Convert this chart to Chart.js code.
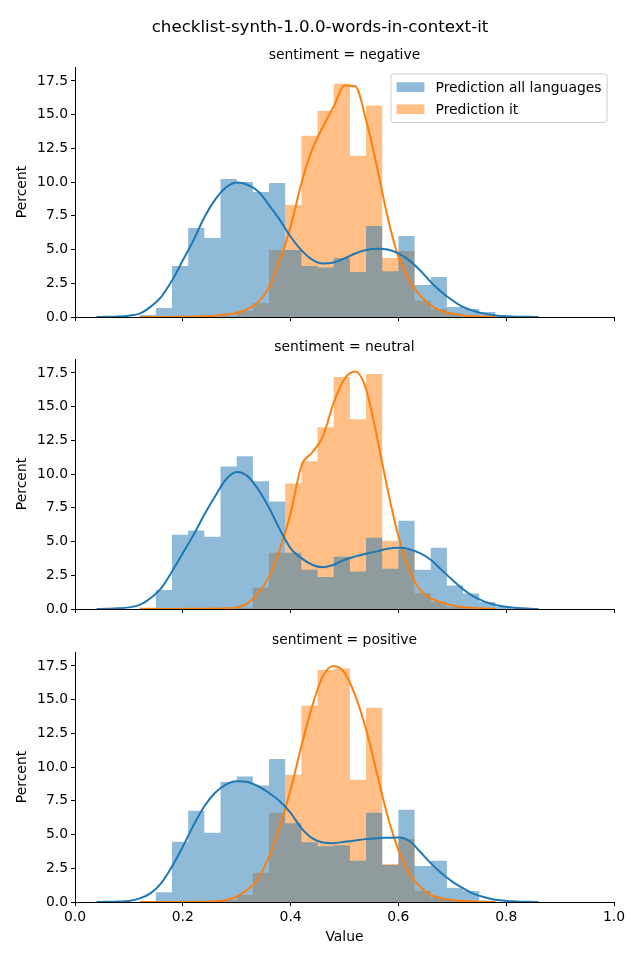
<!DOCTYPE html>
<html>
<head>
<meta charset="utf-8">
<script src="https://cdn.jsdelivr.net/npm/chart.js@4.4.1/dist/chart.umd.min.js"></script>
<style>
    html, body { margin: 0; padding: 0; background: #fff; }
    #page { position: relative; width: 640px; height: 960px; }
    canvas { position: absolute; left: 0; }
</style>
</head>
<body>
<div id="page">
    <canvas id="negative" width="640" height="330" style="top:0"></canvas>
    <canvas id="neutral" width="640" height="292" style="top:330px"></canvas>
    <canvas id="positive" width="640" height="338" style="top:622px"></canvas>
</div>
<script>
// histogram bin edges (width 0.03) and percent per bin
const binEdges = [0.12, 0.15, 0.18, 0.21, 0.24, 0.27, 0.30, 0.33, 0.36, 0.39, 0.42, 0.45,
    0.48, 0.51, 0.54, 0.57, 0.60, 0.63, 0.66, 0.69, 0.72, 0.75, 0.78, 0.81]

const negativeAll = [0.15, 0.66, 3.78, 6.6, 5.86, 10.23, 10.0, 9.27, 9.93, 4.97, 3.78, 3.66,
    4.37, 3.34, 6.75, 3.40, 6.0, 2.37, 2.97, 0.74, 0.59, 0.37, 0.1]
const negativeIt = [0, 0, 0, 0, 0.05, 0.1, 0.47, 1.01, 4.97, 8.3, 13.44, 15.29,
    17.28, 11.95, 15.67, 4.37, 4.9, 1.2, 0.6, 0.27, 0.1, 0, 0]

const neutralAll = [0, 1.41, 5.51, 5.81, 5.36, 10.57, 11.32, 9.46, 7.97, 4.17, 2.90, 2.38,
    3.87, 2.78, 5.29, 2.98, 6.55, 2.90, 4.54, 1.75, 1.14, 0.52, 0.15]
const neutralIt = [0.12, 0, 0, 0, 0, 0.05, 0.1, 1.6, 4.17, 9.31, 10.95, 13.48,
    17.2, 14.07, 17.42, 5.06, 4.39, 1.16, 0.54, 0.17, 0.07, 0, 0]

const positiveAll = [0, 0.72, 4.46, 6.77, 5.13, 8.90, 9.30, 8.63, 10.6, 5.83, 4.42, 4.13,
    4.2, 3.06, 6.62, 2.74, 6.84, 2.67, 3.06, 1.04, 0.82, 0.1, 0]
const positiveIt = [0, 0, 0, 0, 0, 0.15, 0.52, 2.17, 6.62, 9.44, 14.55, 17.2,
    17.3, 9.07, 14.4, 2.82, 4.69, 0.84, 0.34, 0.15, 0.05, 0, 0]

// kde curves, read at these x values
const kdeX = [0.04, 0.06, 0.08, 0.10, 0.12, 0.14, 0.16, 0.18, 0.20, 0.22, 0.24, 0.26, 0.28, 0.30,
    0.32, 0.34, 0.36, 0.38, 0.40, 0.42, 0.44, 0.46, 0.48, 0.50, 0.52, 0.54, 0.56, 0.58,
    0.60, 0.62, 0.64, 0.66, 0.68, 0.70, 0.72, 0.74, 0.76, 0.78, 0.80, 0.82, 0.84, 0.86]

const negativeAllKde = [0, 0.01, 0.03, 0.1, 0.25, 0.75, 1.5, 2.7, 4.2, 5.7, 7.4, 8.7, 9.6, 9.97,
    9.8, 9.3, 8.3, 7.2, 5.95, 4.96, 4.26, 3.97, 4.04, 4.34, 4.71, 4.96, 5.06, 5.0,
    4.71, 4.2, 3.47, 2.6, 1.86, 1.24, 0.74, 0.45, 0.25, 0.12, 0.05, 0.02, 0.01, 0]
const negativeItKde = [null, null, null, null, 0, 0, 0, 0.01, 0.02, 0.03, 0.05, 0.1, 0.18, 0.3,
    0.6, 1.1, 2.2, 4.2, 6.7, 9.9, 12.4, 14.1, 15.6, 17.15, 17.1, 14.6, 11.2, 7.4,
    4.46, 2.7, 1.6, 0.87, 0.45, 0.25, 0.12, 0.06, 0.03, 0, null, null, null, null]

const neutralAllKde = [0, 0.02, 0.05, 0.12, 0.3, 0.8, 1.55, 2.78, 4.14, 5.5, 7.0, 8.36, 9.6, 10.15,
    9.85, 8.86, 7.5, 5.9, 4.5, 3.77, 3.28, 3.1, 3.28, 3.65, 3.9, 4.1, 4.27, 4.47,
    4.54, 4.44, 4.14, 3.65, 2.9, 2.16, 1.46, 0.92, 0.55, 0.3, 0.17, 0.08, 0.03, 0]
const neutralItKde = [null, null, null, null, 0, 0, 0, 0, 0.01, 0.01, 0.02, 0.03, 0.05, 0.12,
    0.42, 1.17, 2.4, 4.4, 7.1, 10.6, 11.6, 12.8, 15.3, 17.05, 17.6, 16.3, 12.8, 8.86,
    5.4, 2.9, 1.41, 0.8, 0.47, 0.27, 0.15, 0.07, 0.03, 0.01, null, null, null, null]

const positiveAllKde = [0, 0.01, 0.03, 0.08, 0.27, 0.64, 1.4, 2.63, 4.1, 5.7, 7.1, 8.1, 8.7, 8.95,
    8.9, 8.58, 8.08, 7.46, 6.6, 5.48, 4.73, 4.41, 4.36, 4.46, 4.56, 4.66, 4.73, 4.76,
    4.78, 4.54, 3.74, 2.88, 2.13, 1.51, 1.02, 0.6, 0.35, 0.17, 0.08, 0.03, 0.01, 0]
const positiveItKde = [null, null, null, null, 0, 0, 0, 0, 0.01, 0.01, 0.02, 0.05, 0.15, 0.4,
    0.9, 1.76, 3.37, 5.6, 8.33, 11.55, 14.5, 16.76, 17.5, 17.0, 15.3, 12.8, 9.57, 6.35,
    3.87, 2.13, 1.14, 0.52, 0.27, 0.15, 0.08, 0.04, 0.02, 0, null, null, null, null]

const seriesLabels = ['Prediction all languages', 'Prediction it']
const figureTitle = 'checklist-synth-1.0.0-words-in-context-it'

const BLUE = '#1f77b4'
const ORANGE = '#ff7f0e'
const BLUE_FILL = 'rgba(31,119,180,0.5)'
const ORANGE_FILL = 'rgba(255,127,14,0.5)'
const FS = 13.9
const FONT = '"DejaVu Sans", sans-serif'

Chart.defaults.font.family = FONT
Chart.defaults.font.size = FS
Chart.defaults.color = '#000'

const points = (xs, ys) => xs.map((x, i) => ({x, y: ys[i]}))
// each bin value holds from its left edge to the next edge
const histPoints = (vals) => binEdges.map((x, i) => ({x, y: i < vals.length ? vals[i] : 0}))

function drawLegend(chart) {
    const {ctx, chartArea} = chart
    const pad = 0.4 * FS, handleLen = 2 * FS, handlePad = 0.8 * FS
    const rowH = 15.2, spacing = 0.5 * FS, axPad = 0.5 * FS
    ctx.font = FS + 'px ' + FONT
    const textW = Math.max(...seriesLabels.map((t) => ctx.measureText(t).width))
    const w = pad * 2 + handleLen + handlePad + textW
    const h = pad * 2 + rowH * 2 + spacing
    const left = chartArea.right - axPad - w
    const top = chartArea.top + axPad

    ctx.beginPath()
    ctx.roundRect(left, top, w, h, 2.8)
    ctx.fillStyle = 'rgba(255,255,255,0.8)'
    ctx.fill()
    ctx.strokeStyle = 'rgb(204,204,204)'
    ctx.lineWidth = 1
    ctx.stroke()

    const colors = [BLUE_FILL, ORANGE_FILL]
    seriesLabels.forEach((label, i) => {
        const cy = top + pad + rowH / 2 + i * (rowH + spacing)
        ctx.fillStyle = colors[i]
        ctx.fillRect(left + pad, cy - 0.35 * FS, handleLen, 0.7 * FS)
        ctx.fillStyle = '#000'
        ctx.textAlign = 'left'
        ctx.textBaseline = 'middle'
        ctx.fillText(label, left + pad + handleLen + handlePad, cy + 1)
    })
}

const panelText = {
    id: 'panelText',
    afterDraw(chart, args, opts) {
        const {ctx, chartArea} = chart
        ctx.save()
        ctx.fillStyle = '#000'
        ctx.textAlign = 'center'
        ctx.textBaseline = 'alphabetic'
        if (opts.suptitle) {
            ctx.font = '16.67px ' + FONT
            ctx.fillText(opts.suptitle, 320, 32)
        }
        ctx.font = FS + 'px ' + FONT
        ctx.fillText(opts.title, (chartArea.left + chartArea.right) / 2, chartArea.top - 8.3)
        if (opts.legend) drawLegend(chart)
        ctx.restore()
    }
}

function makePanel({id, title, all, it, allKde, itKde, padTop, xHeight, bottom, first}) {
    const axisGrid = {
        display: true,
        drawOnChartArea: false,
        drawTicks: true,
        tickLength: 4,
        color: '#000',
        lineWidth: 1
    }
    const kdeLine = {
        type: 'line', borderWidth: 2, pointRadius: 0, fill: false,
        cubicInterpolationMode: 'monotone', spanGaps: false
    }
    const histArea = {
        type: 'line', stepped: true, fill: 'origin', pointRadius: 0,
        borderWidth: 0, borderColor: 'rgba(0,0,0,0)'
    }
    new Chart(document.getElementById(id), {
        type: 'line',
        data: {
            datasets: [
                {...kdeLine, label: seriesLabels[0], data: points(kdeX, allKde), borderColor: BLUE, order: 0},
                {...kdeLine, label: seriesLabels[1], data: points(kdeX, itKde), borderColor: ORANGE, order: 1},
                {...histArea, label: seriesLabels[0], data: histPoints(all), backgroundColor: BLUE_FILL, order: 2},
                {...histArea, label: seriesLabels[1], data: histPoints(it), backgroundColor: ORANGE_FILL, order: 3}
            ]
        },
        options: {
            responsive: false,
            animation: false,
            devicePixelRatio: 1,
            layout: {padding: {top: padTop, right: 26, bottom: 0, left: 0}},
            scales: {
                x: {
                    type: 'linear',
                    min: 0,
                    max: 1,
                    offset: false,
                    grid: axisGrid,
                    border: {display: true, color: '#000', width: 1},
                    ticks: {
                        stepSize: 0.2,
                        padding: 3,
                        maxRotation: 0,
                        includeBounds: false,
                        callback: (v) => bottom ? v.toFixed(1) : ''
                    },
                    title: {
                        display: bottom,
                        text: 'Value',
                        padding: {top: 0, bottom: 14}
                    },
                    afterFit: (scale) => { scale.height = xHeight }
                },
                y: {
                    min: 0,
                    max: 18.53,
                    grid: axisGrid,
                    border: {display: true, color: '#000', width: 1},
                    ticks: {
                        stepSize: 2.5,
                        padding: 3,
                        includeBounds: false,
                        callback: (v) => v.toFixed(1)
                    },
                    title: {
                        display: true,
                        text: 'Percent',
                        padding: {top: 14, bottom: 0}
                    },
                    afterFit: (scale) => { scale.width = 75 }
                }
            },
            plugins: {
                legend: {display: false},
                tooltip: {enabled: false},
                panelText: {
                    title,
                    suptitle: first ? figureTitle : null,
                    legend: first
                }
            }
        },
        plugins: [panelText]
    })
}

makePanel({
    id: 'negative', title: 'sentiment = negative',
    all: negativeAll, it: negativeIt, allKde: negativeAllKde, itKde: negativeItKde,
    padTop: 67, xHeight: 13, bottom: false, first: true
})
makePanel({
    id: 'neutral', title: 'sentiment = neutral',
    all: neutralAll, it: neutralIt, allKde: neutralAllKde, itKde: neutralItKde,
    padTop: 29, xHeight: 13, bottom: false, first: false
})
makePanel({
    id: 'positive', title: 'sentiment = positive',
    all: positiveAll, it: positiveIt, allKde: positiveAllKde, itKde: positiveItKde,
    padTop: 30, xHeight: 58, bottom: true, first: false
})
</script>
</body>
</html>
